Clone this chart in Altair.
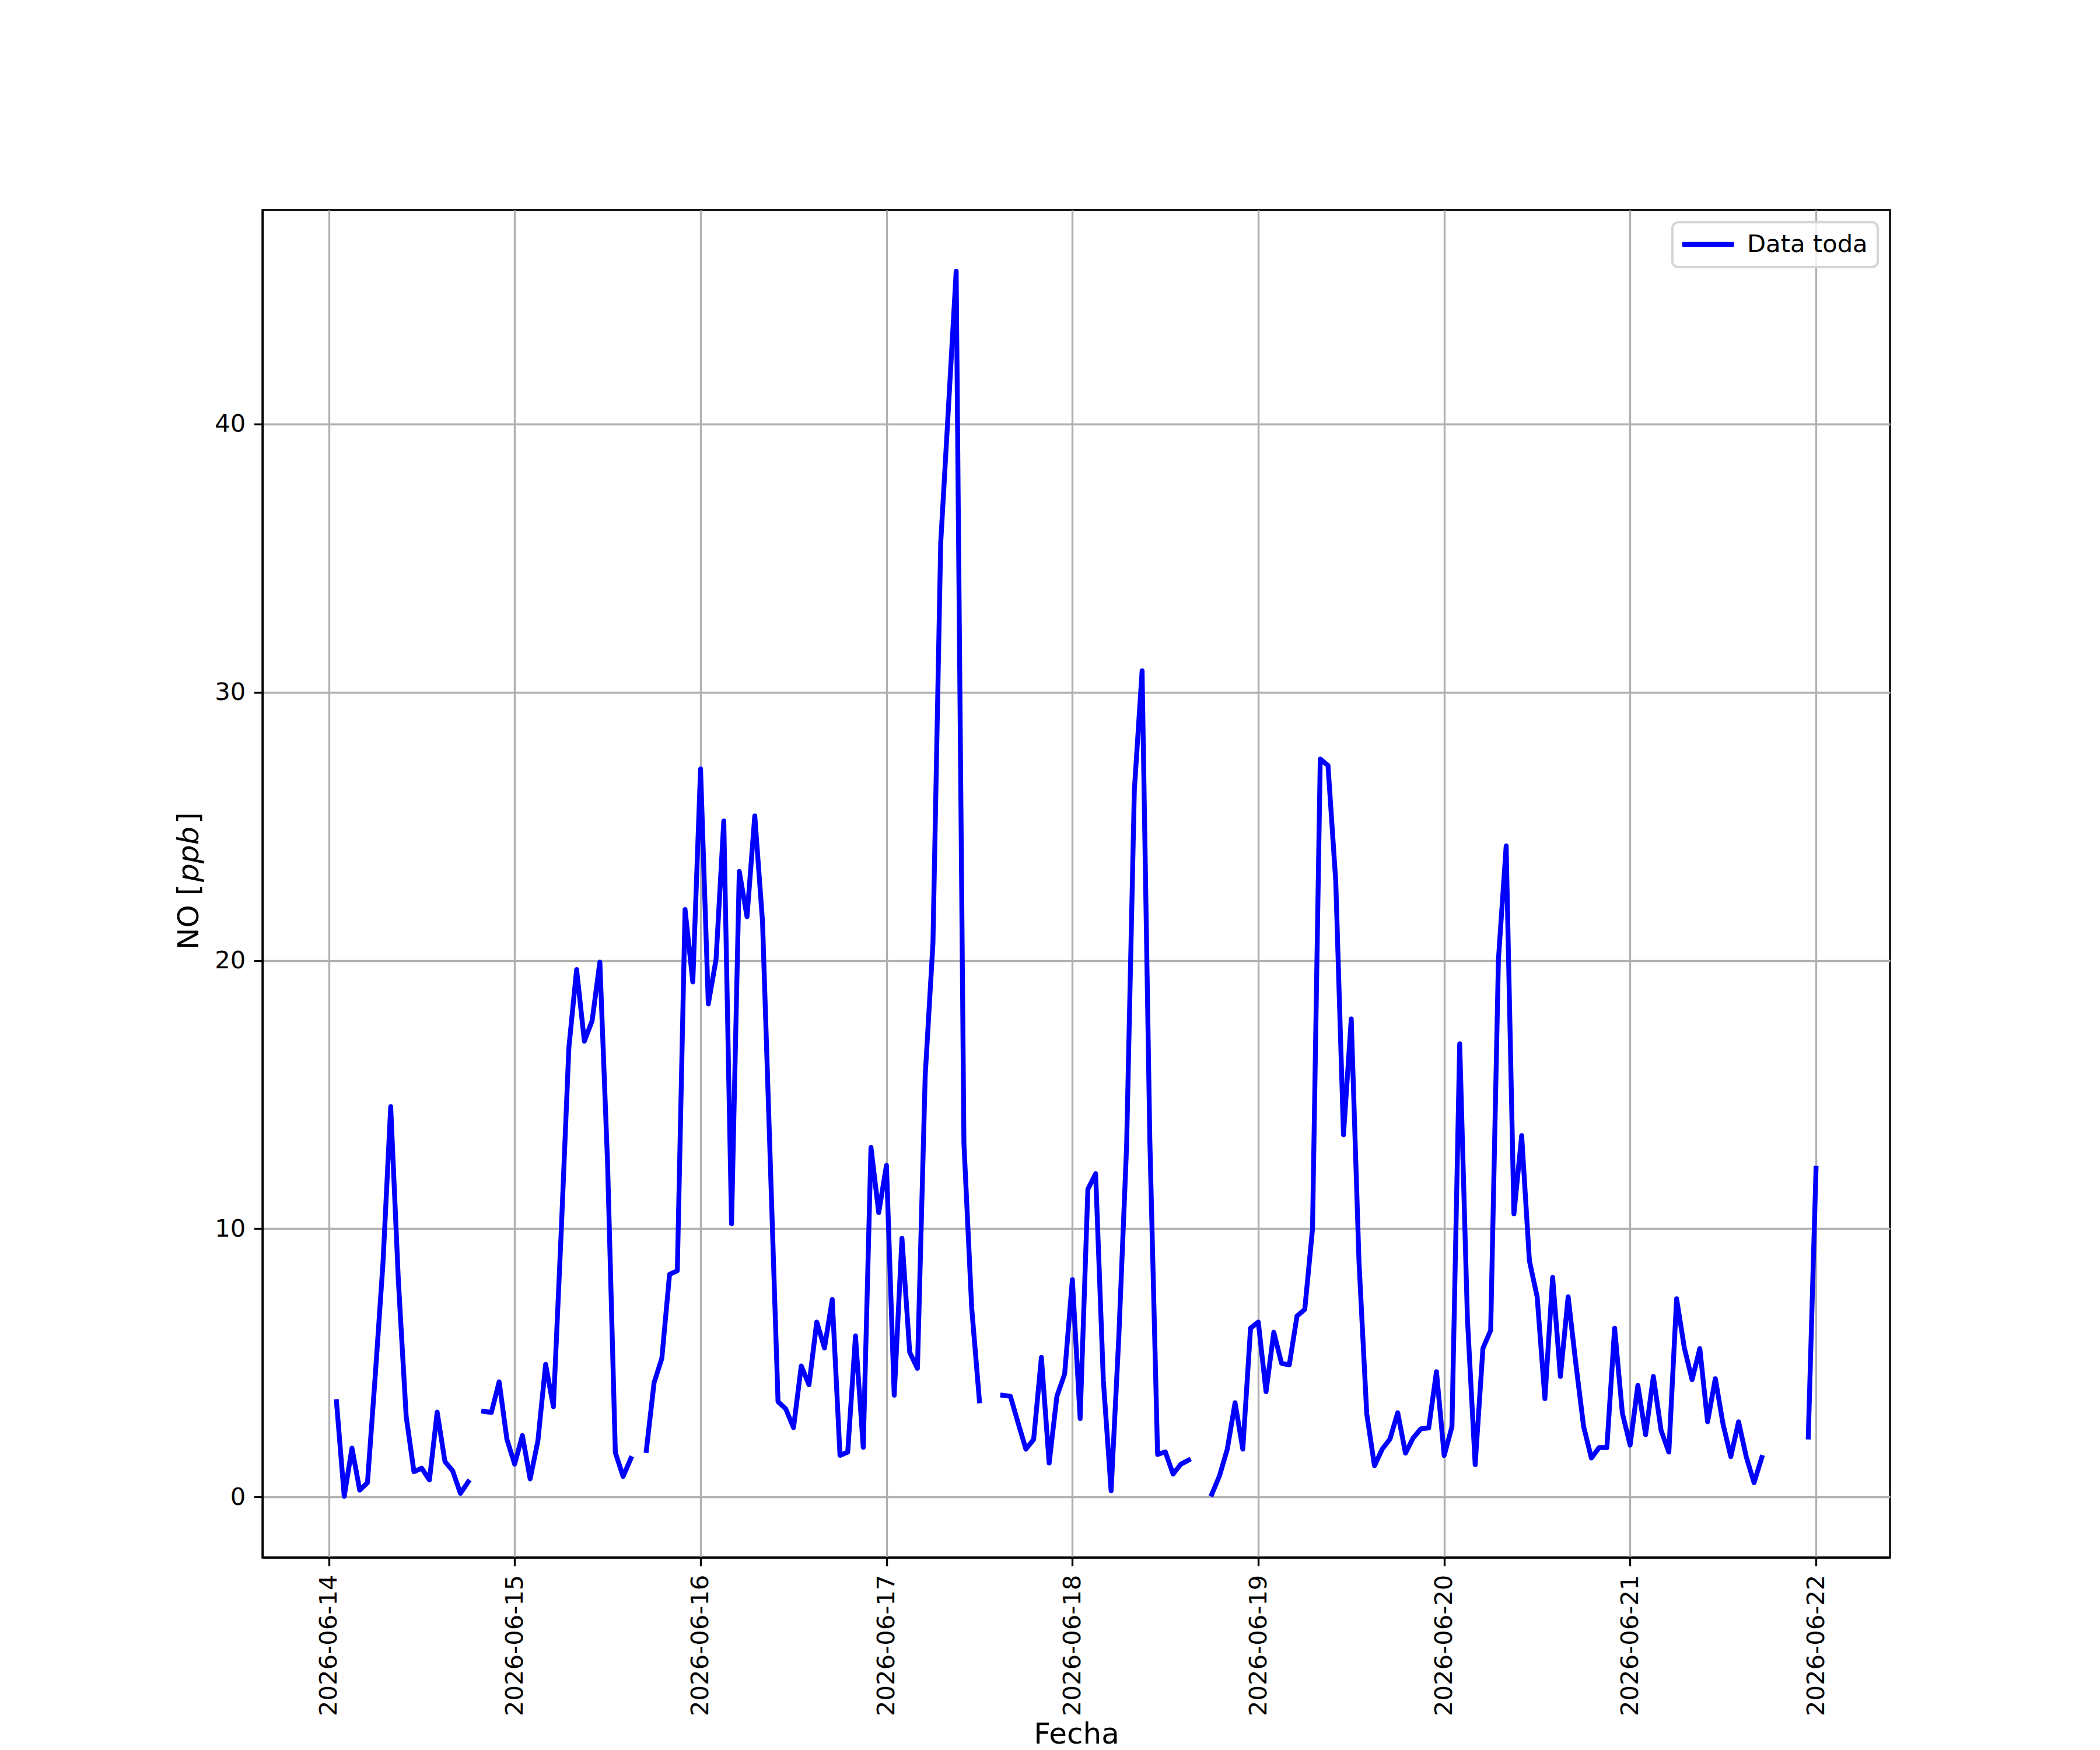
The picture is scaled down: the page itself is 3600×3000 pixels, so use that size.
import altair as alt
import pandas as pd

# Hours after 2026-06-14 00:00 (UTC) that have a reading
hours = (list(range(1, 19)) + list(range(20, 40)) + list(range(41, 85))
         + list(range(87, 112)) + list(range(114, 186)) + [191, 192])

# NO [ppb] readings
no_values = [
    # 14 Jun 01h - 18h
    3.55, 0.02, 1.82, 0.25, 0.53, 4.5, 8.7, 14.55, 8.0, 3.0, 0.94, 1.07, 0.63, 3.16, 1.32, 0.97, 0.13, 0.56,
    # 14 Jun 20h - 15 Jun 15h
    3.19, 3.15, 4.29, 2.15, 1.22, 2.29, 0.67, 2.08, 4.94, 3.36, 9.8, 16.75, 19.66, 16.99, 17.75, 19.94,
    12.4, 1.65, 0.76, 1.43,
    # 15 Jun 17h - 17 Jun 12h
    1.73, 4.26, 5.16, 8.3, 8.43, 21.9, 19.2, 27.14, 18.38, 20.04,
    25.2, 10.18, 23.32, 21.63, 25.39, 21.45, 12.5, 3.55, 3.28, 2.58,
    4.88, 4.18, 6.52, 5.55, 7.36, 1.55, 1.67, 6.0, 1.85, 13.03,
    10.6, 12.36, 3.79, 9.64, 5.39, 4.79, 15.7, 20.64, 35.55, 40.6,
    45.7, 13.18, 7.06, 3.58,
    # 17 Jun 15h - 18 Jun 15h
    3.79, 3.75, 2.75, 1.78, 2.14, 5.2, 1.26, 3.75, 4.58, 8.1,
    2.92, 11.47, 12.05, 4.33, 0.23, 6.0, 13.08, 26.35, 30.8, 13.29,
    1.58, 1.68, 0.85, 1.22, 1.37,
    # 18 Jun 18h - 21 Jun 17h
    0.1, 0.79, 1.78, 3.51, 1.78, 6.29, 6.52, 3.92, 6.14, 4.98,
    4.92, 6.74, 6.99, 9.99, 27.51, 27.27, 22.95, 13.5, 17.82, 8.77,
    3.1, 1.16, 1.78, 2.16, 3.14, 1.63, 2.2, 2.54, 2.57, 4.67,
    1.54, 2.62, 16.89, 6.63, 1.2, 5.54, 6.21, 20.03, 24.27, 10.55,
    13.47, 8.8, 7.46, 3.66, 8.18, 4.49, 7.46, 4.95, 2.62, 1.45,
    1.84, 1.84, 6.29, 3.12, 1.93, 4.16, 2.32, 4.49, 2.48, 1.67,
    7.39, 5.56, 4.37, 5.53, 2.8, 4.41, 2.71, 1.5, 2.8, 1.49,
    0.53, 1.47,
    # 21 Jun 23h - 22 Jun 00h
    2.23, 12.25,
]

series_name = "Data toda"
tick_days = [14, 15, 16, 17, 18, 19, 20, 21, 22]
y_ticks = [0, 10, 20, 30, 40]

base = pd.Timestamp("2026-06-14T00:00:00Z")
seg = []
s = 0
for i, h in enumerate(hours):
    if i > 0 and h - hours[i - 1] > 1:
        s += 1
    seg.append(s)

df = pd.DataFrame({
    "fecha": [(base + pd.Timedelta(hours=h)).strftime("%Y-%m-%dT%H:%M:%SZ") for h in hours],
    "no": no_values,
    "seg": seg,
    "serie": [series_name] * len(hours),
})

FONT = "DejaVu Sans"
LW = 8.33
TICK_FS = 41.7
LABEL_FS = 50

x_domain = [alt.DateTime(year=2026, month=6, date=13, hours=15, minutes=27, utc=True),
            alt.DateTime(year=2026, month=6, date=22, hours=9, minutes=33, utc=True)]

line = alt.Chart(df).mark_line(
    strokeWidth=LW, strokeCap="square", strokeJoin="round"
).encode(
    x=alt.X("fecha:T",
            scale=alt.Scale(type="utc", domain=x_domain, nice=False),
            axis=alt.Axis(title="Fecha", format="%Y-%m-%d", labelAngle=270,
                          values=[alt.DateTime(year=2026, month=6, date=d, utc=True) for d in tick_days],
                          labelFlush=False, labelOverlap=False, labelLimit=2000,
                          titleBaseline="alphabetic", titleY=318, titleAnchor="middle")),
    y=alt.Y("no:Q",
            scale=alt.Scale(domain=[-2.26, 47.98], nice=False, zero=False),
            axis=alt.Axis(title=None, values=y_ticks)),
    color=alt.Color("serie:N",
                    scale=alt.Scale(domain=[series_name], range=["#0000ff"]),
                    legend=alt.Legend(title=None, labelLimit=2000)),
    detail="seg:N",
)

# y-axis title "NO [ppb]" with italic ppb (mathtext look)
ylab_x = -125
t1 = alt.Chart(pd.DataFrame({"t": ["NO ["]})).mark_text(
    angle=270, align="left", baseline="middle", font=FONT, fontSize=LABEL_FS, color="black"
).encode(text="t:N", x=alt.value(ylab_x), y=alt.value(1268))
t2 = alt.Chart(pd.DataFrame({"t": ["ppb"]})).mark_text(
    angle=270, align="left", baseline="middle", font=FONT, fontSize=LABEL_FS, fontStyle="italic",
    color="black"
).encode(text="t:N", x=alt.value(ylab_x), y=alt.value(1152))
t3 = alt.Chart(pd.DataFrame({"t": ["]"]})).mark_text(
    angle=270, align="left", baseline="middle", font=FONT, fontSize=LABEL_FS, color="black"
).encode(text="t:N", x=alt.value(ylab_x), y=alt.value(1052))

chart = alt.layer(line, t1, t2, t3).properties(
    width=2790, height=2310,
    autosize=alt.AutoSizeParams(type="none"),
    padding={"left": 442, "top": 352, "right": 352, "bottom": 330},
    background="white",
).configure_view(
    stroke="black", strokeWidth=3.33, fill="white"
).configure_axis(
    labelFont=FONT, labelFontSize=TICK_FS, labelColor="black",
    titleFont=FONT, titleFontSize=LABEL_FS, titleFontWeight="normal", titleColor="black",
    titlePadding=16.7,
    tickColor="black", tickWidth=3.33, tickSize=14.6, labelPadding=14.6,
    domain=True, domainColor="black", domainWidth=3.33,
    grid=True, gridColor="#b0b0b0", gridWidth=3.33,
).configure_legend(
    orient="top-right", offset=21, padding=17, cornerRadius=10,
    strokeColor="#d6d6d6", strokeWidth=4.2, fillColor="rgba(255,255,255,0.8)",
    symbolType="stroke", symbolSize=8464, symbolStrokeWidth=LW, symbolOffset=-8,
    clipHeight=42, labelOffset=18,
    labelFont=FONT, labelFontSize=TICK_FS, labelColor="black",
)

chart.save("out.html", embed_options={"renderer": "svg", "actions": False})
